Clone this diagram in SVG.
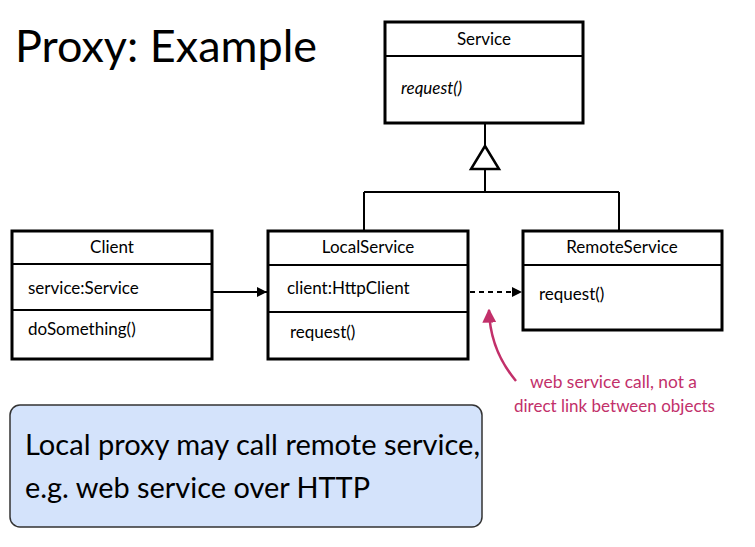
<svg xmlns="http://www.w3.org/2000/svg" width="755" height="547" viewBox="0 0 755 547">
<defs>
<style>
text{font-family:"Lato","Open Sans","Liberation Sans",sans-serif;fill:#000}
.box{fill:#fff;stroke:#000;stroke-width:3}
.div{stroke:#000;stroke-width:2}
.t{font-size:17px}
.c{text-anchor:middle}
.ln{stroke:#000;stroke-width:2;fill:none}
.red{fill:#c2306a}
</style>
<marker id="ah" viewBox="0 0 10 10" refX="10" refY="5" markerWidth="10" markerHeight="10" markerUnits="userSpaceOnUse" orient="auto"><path d="M0,0 L10,5 L0,10 z" fill="#000"/></marker>
<marker id="rh" viewBox="0 0 10 10" refX="9" refY="5" markerWidth="14" markerHeight="14" markerUnits="userSpaceOnUse" orient="auto"><path d="M0,0 L10,5 L0,10 z" fill="#c2306a"/></marker>
</defs>
<text x="15" y="62" font-size="44" textLength="302" lengthAdjust="spacingAndGlyphs">Proxy: Example</text>
<g id="connectors">
<path class="ln" d="M485,123 V146"/>
<path d="M485,146 L471,169 L499,169 Z" fill="#fff" stroke="#000" stroke-width="2.5"/>
<path class="ln" d="M485,169 V192 M364,192 H619 M364,192 V230 M619,192 V230"/>
<path class="ln" d="M213,292 H267" marker-end="url(#ah)"/>
<path class="ln" d="M470,292 H522" stroke-dasharray="5,4" marker-end="url(#ah)"/>
<path d="M516,381 Q490,350 489,310" fill="none" stroke="#c2306a" stroke-width="2.5" marker-end="url(#rh)"/>
</g>
<g id="service">
<rect class="box" x="385" y="22" width="198" height="101"/>
<line class="div" x1="385" y1="56" x2="583" y2="56"/>
<text class="t c" x="484" y="45">Service</text>
<text class="t" x="401" y="94" font-style="italic">request()</text>
</g>
<g id="client">
<rect class="box" x="12" y="231" width="200" height="128"/>
<line class="div" x1="12" y1="264" x2="212" y2="264"/>
<line class="div" x1="12" y1="310" x2="212" y2="310"/>
<text class="t c" x="112" y="253">Client</text>
<text class="t" x="28" y="294">service:Service</text>
<text class="t" x="28" y="335">doSomething()</text>
</g>
<g id="localservice">
<rect class="box" x="268" y="231" width="200" height="128"/>
<line class="div" x1="268" y1="265" x2="468" y2="265"/>
<line class="div" x1="268" y1="312" x2="468" y2="312"/>
<text class="t c" x="368" y="253">LocalService</text>
<text class="t" x="287" y="294">client:HttpClient</text>
<text class="t" x="290" y="338">request()</text>
</g>
<g id="remoteservice">
<rect class="box" x="523" y="231" width="199" height="99"/>
<line class="div" x1="523" y1="265" x2="722" y2="265"/>
<text class="t c" x="622" y="253">RemoteService</text>
<text class="t" x="539" y="300">request()</text>
</g>
<g id="note">
<text class="red" x="530" y="388" font-size="17" textLength="167" lengthAdjust="spacingAndGlyphs">web service call, not a</text>
<text class="red" x="514" y="412" font-size="17" textLength="201" lengthAdjust="spacingAndGlyphs">direct link between objects</text>
</g>
<g id="callout">
<rect x="10" y="405" width="472" height="122" rx="10" fill="#d4e3fb" stroke="#333" stroke-width="1.5"/>
<text x="25" y="455" font-size="28.5" textLength="455" lengthAdjust="spacingAndGlyphs">Local proxy may call remote service,</text>
<text x="25" y="498" font-size="28.5" textLength="345" lengthAdjust="spacingAndGlyphs">e.g. web service over HTTP</text>
</g>
</svg>
